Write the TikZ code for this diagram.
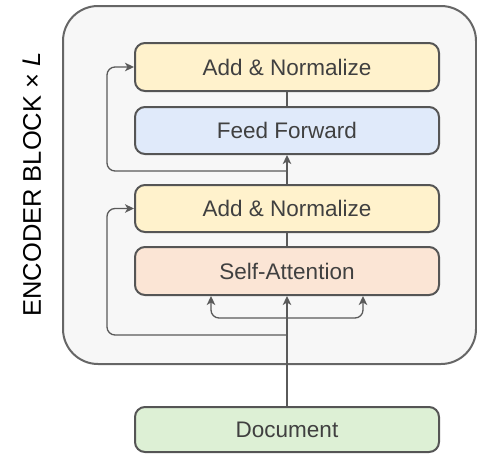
\documentclass[tikz,border=0pt]{standalone}
\usepackage{fontspec}
\setmainfont{Liberation Sans}
\usetikzlibrary{arrows.meta}

\definecolor{outerfill}{HTML}{F7F7F7}
\definecolor{outerline}{HTML}{666666}
\definecolor{boxline}{HTML}{555555}
\definecolor{linegray}{HTML}{5A5A5A}
\definecolor{textgray}{HTML}{404040}
\definecolor{normfill}{HTML}{FFF2CC}
\definecolor{ffnfill}{HTML}{E0EAFA}
\definecolor{attnfill}{HTML}{FBE5D5}
\definecolor{docfill}{HTML}{DDF0D5}

\begin{document}
\begin{tikzpicture}[x=1pt, y=-1pt,
  block/.style={draw=boxline, line width=2pt, rounded corners=10pt,
    minimum width=304pt, minimum height=48pt, inner sep=0pt,
    text=textgray, font=\fontsize{22.5}{27}\selectfont},
  link/.style={draw=linegray, line width=1.3pt, rounded corners=8pt},
  tip/.style={-{Stealth[length=9pt,width=8.5pt,inset=2.5pt]}}]

\useasboundingbox (0,0) rectangle (477,453);

% encoder container
\node[draw=outerline, fill=outerfill, line width=2pt, rounded corners=35pt,
      minimum width=413pt, minimum height=358pt, inner sep=0pt]
      (encoder) at (269.5,185) {};

% side label
\node[rotate=90, anchor=base, inner sep=0pt,
      font=\fontsize{25.5}{30}\selectfont] (label) at (41,184.5)
      {ENCODER BLOCK × \textit{L}};

% layers
\node[block, fill=normfill] (addtop) at (287,67) {Add \& Normalize};
\node[block, fill=ffnfill, minimum height=47pt] (ffn) at (287,130.5) {Feed Forward};
\node[block, fill=normfill, minimum height=47pt] (addlow) at (287,208.5) {Add \& Normalize};
\node[block, fill=attnfill] (attn) at (287,271) {Self-Attention};
\node[block, fill=docfill, minimum height=45pt] (doc) at (287,429.5) {Document};

% main data path
\draw[link, tip] (doc.north) -- (attn.south);
\draw[link] (attn.north) -- (addlow.south);
\draw[link, tip] (addlow.north) -- (ffn.south);
\draw[link] (ffn.north) -- (addtop.south);

% branch points
\coordinate (fan) at (287,318);
\coordinate (split1) at (287,335);
\coordinate (loop1) at (107,335);
\coordinate (split2) at (287,171);
\coordinate (loop2) at (107,171);

% query / key inputs to attention
\draw[link, tip] (fan) -| ([xshift=-76pt]attn.south);
\draw[link, tip] (fan) -| ([xshift=76pt]attn.south);

% residual connections
\draw[link, tip] (split1) -- (loop1) |- (addlow.west);
\draw[link, tip] (split2) -- (loop2) |- (addtop.west);
\end{tikzpicture}
\end{document}
